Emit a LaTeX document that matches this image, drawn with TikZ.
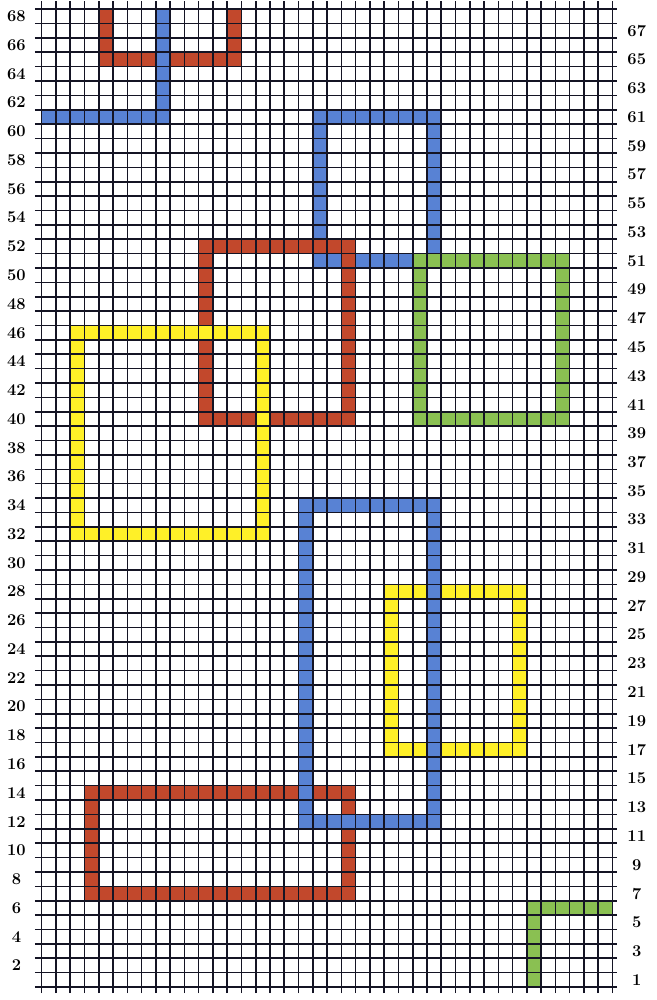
\documentclass[tikz,border=0pt]{standalone}
\usepackage{tikz}
\usetikzlibrary{positioning}
\definecolor{stripred}{RGB}{194,72,44}
\definecolor{stripblue}{RGB}{88,130,212}
\definecolor{stripyellow}{RGB}{255,240,40}
\definecolor{stripgreen}{RGB}{138,192,82}
\definecolor{gridink}{RGB}{20,20,36}

\begin{document}
\begin{tikzpicture}[x=14.27pt, y=14.38pt,
        strip/.style={line width=14.3pt, line join=miter, line cap=rect},
        gridline/.style={gridink, line width=1.6pt},
        rowlabel/.style={font=\fontsize{16.5}{16.5}\selectfont\bfseries, inner sep=0pt}]
      \useasboundingbox (-41.7pt,-13pt) rectangle (614.3pt,987pt);
      \draw[strip, stripred] (4.5,67.5) -- (4.5,64.5) -- (13.5,64.5) -- (13.5,67.5);
      \draw[strip, stripblue] (8.5,67.5) -- (8.5,60.5) -- (0.5,60.5);
      \draw[strip, stripblue] (19.5,50.5) rectangle (27.5,60.5);
      \draw[strip, stripred] (11.5,39.5) rectangle (21.5,51.5);
      \draw[strip, stripyellow] (2.5,31.5) rectangle (15.5,45.5);
      \draw[strip, stripgreen] (26.5,39.5) rectangle (36.5,50.5);
      \draw[strip, stripred] (3.5,6.5) rectangle (21.5,13.5);
      \draw[strip, stripyellow] (24.5,16.5) rectangle (33.5,27.5);
      \draw[strip, stripblue] (18.5,11.5) rectangle (27.5,33.5);
      \draw[strip, stripgreen] (34.5,0.5) -- (34.5,5.5) -- (39.5,5.5);
      \foreach \i in {0,...,40}
        \draw[gridline] (\i,-0.42) -- (\i,68.55);
      \foreach \j in {0,...,68}
        \draw[gridline] (-0.47,\j) -- (40.3,\j);
      \foreach \n in {2,4,...,68}
        \node[rowlabel] (even\n) at (-1.77,\n-0.5) {\n};
      \foreach \n in {1,3,...,67}
        \node[rowlabel] (odd\n) at (41.7,\n-0.5) {\n};
    \end{tikzpicture}
\end{document}
